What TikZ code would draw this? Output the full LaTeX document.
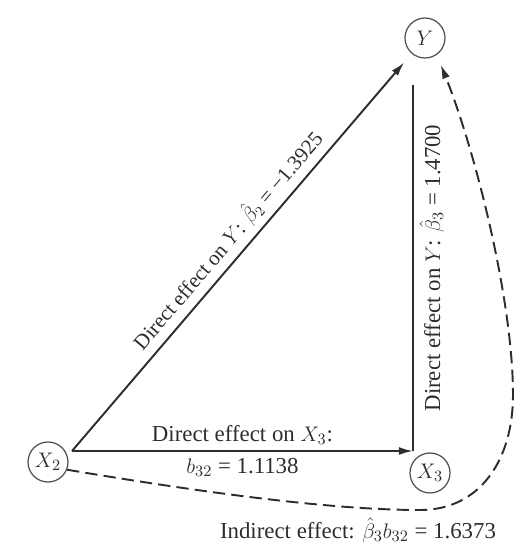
\documentclass[tikz,border=0pt]{standalone}
\usepackage{fontspec}
\setmainfont{Liberation Serif}
\usetikzlibrary{arrows.meta,positioning}
\definecolor{InkDark}{RGB}{45,45,45}
\definecolor{InkCircle}{RGB}{80,80,80}

\begin{document}
\begin{tikzpicture}[
    x=0.02cm, y=-0.02cm,
    every node/.style={font=\fontsize{13}{15}\selectfont, text=InkDark},
    varnode/.style={circle, draw=InkCircle, line width=0.7pt,
                    minimum size=0.8cm, inner sep=0pt},
    effect/.style={draw=InkDark, line width=1.1pt,
                   -{Latex[length=8pt,width=4.5pt]}},
    edgeline/.style={draw=InkDark, line width=1.1pt},
    indirect/.style={draw=InkDark, line width=1.1pt,
                     dash pattern=on 7pt off 3.5pt,
                     -{Latex[length=8pt,width=4.5pt]}}
  ]
  \useasboundingbox (0,0) rectangle (519,556);
  \node[varnode] (Y)  at (425,38)  {$Y$};
  \node[varnode] (X2) at (48,462)  {$X_2$};
  \node[varnode] (X3) at (430,473) {$X_3$};
  \coordinate (src) at (72,451);
  \coordinate (corner) at (413,451);
  \coordinate (top) at (413,85);
  % direct paths
  \draw[effect, shorten >=6.5pt] (src) -- (Y)
    node[midway, sloped, above, font=\fontsize{12}{14}\selectfont]
      {Direct effect on $Y$: $\hat{\beta}_2$ = −1.3925};
  \draw[effect] (src) -- (corner)
    node[midway, above] {Direct effect on $X_3$:}
    node[midway, below] {$b_{32}$ = 1.1138};
  \draw[edgeline] (corner) -- (top)
    node[midway, sloped, below] {Direct effect on $Y$: $\hat{\beta}_3$ = 1.4700};
  % indirect path X2 -> X3 -> Y
  \draw[indirect, shorten >=6pt] (X2.-22) .. controls (200,492) and (330,510) .. (420,510)
    .. controls (480,510) and (513,460) .. (513,395)
    .. controls (513,300) and (475,150) .. (Y.-55);
  \node[anchor=base] (indlbl) at (358,538)
    {Indirect effect: $\hat{\beta}_3 b_{32}$ = 1.6373};
\end{tikzpicture}
\end{document}
